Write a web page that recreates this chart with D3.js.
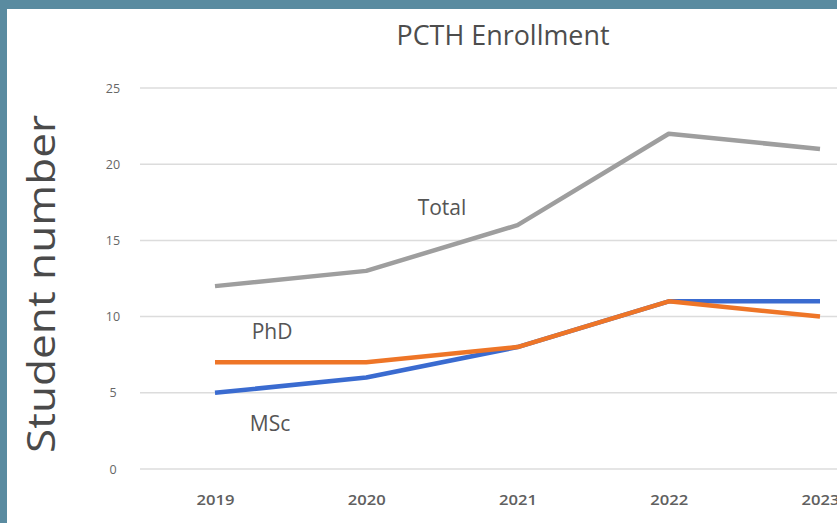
<!DOCTYPE html>
<html><head><meta charset="utf-8">
<script src="https://cdn.jsdelivr.net/npm/d3@7"></script>
<style>
html,body{margin:0;padding:0;background:#fff;}
svg{display:block;}
</style></head>
<body>
<svg id="chart" width="837" height="523"></svg>
<script>
const years = ["2019","2020","2021","2022","2023"];
const totalValues = [12, 13, 16, 22, 21];
const phdValues = [7, 7, 8, 11, 10];
const mscValues = [5, 6, 8, 11, 11];
const yTicks = [0, 5, 10, 15, 20, 25];
const seriesNames = ["Total", "PhD", "MSc"];
const seriesColors = ["#9e9e9e", "#ee7527", "#3a6bd0"];

const svg = d3.select("#chart");
const W = 837, H = 523;

// teal frame
svg.append("rect").attr("x",0).attr("y",0).attr("width",W).attr("height",H).attr("fill","#5a8ba0");
svg.append("rect").attr("x",7).attr("y",9).attr("width",W-7).attr("height",H-9).attr("fill","#ffffff");

const x = d3.scalePoint().domain(years).range([215, 820]);
const y = d3.scaleLinear().domain([0,25]).range([469, 88]);

// gridlines
const grid = svg.append("g");
grid.selectAll("line").data(yTicks).join("line")
  .attr("x1",140).attr("x2",W)
  .attr("y1",d=>y(d)).attr("y2",d=>y(d))
  .attr("stroke","#dcdcdc").attr("stroke-width",1.5);

// y axis labels
const yAxis = d3.axisLeft(y).tickValues(yTicks).tickSize(0).tickPadding(0);
const gy = svg.append("g").attr("transform","translate(120,0)").call(yAxis);
gy.select(".domain").remove();
gy.selectAll("text").attr("font-family","Open Sans, sans-serif").attr("font-size",12.5)
  .attr("fill","#666").attr("text-anchor","middle").attr("x",-7);

// x axis labels
const xAxis = d3.axisBottom(x).tickSize(0).tickPadding(0);
const gx = svg.append("g").attr("transform","translate(0,494)").call(xAxis);
gx.select(".domain").remove();
gx.selectAll("text").attr("font-family","Open Sans, sans-serif").attr("font-size",15)
  .attr("font-weight","600").attr("fill","#606060").attr("dy","0.71em")
  .attr("textLength",38).attr("lengthAdjust","spacingAndGlyphs");

// lines
const series = [totalValues, phdValues, mscValues];
const line = d3.line().x((d,i)=>x(years[i])).y(d=>y(d));
[2,1,0].forEach(k=>{
  svg.append("path").datum(series[k]).attr("d",line)
    .attr("fill","none").attr("stroke",seriesColors[k]).attr("stroke-width",4.5)
    .attr("stroke-linejoin","round");
});

// series labels
const labelPos = [[442,215],[272,339],[270,431]];
seriesNames.forEach((n,i)=>{
  svg.append("text").attr("x",labelPos[i][0]).attr("y",labelPos[i][1])
    .attr("text-anchor","middle").attr("font-family","Open Sans, sans-serif")
    .attr("font-size",21).attr("fill","#555").text(n);
});

// title
svg.append("text").attr("x",503).attr("y",45).attr("text-anchor","middle")
  .attr("font-family","Open Sans, sans-serif").attr("font-size",28).attr("fill","#4d4d4d")
  .attr("textLength",213).attr("lengthAdjust","spacingAndGlyphs")
  .text("PCTH Enrollment");

// y title
svg.append("text").attr("transform","translate(55,284) rotate(-90)").attr("text-anchor","middle")
  .attr("font-family","Open Sans, sans-serif").attr("font-size",38).attr("fill","#4a4a4a")
  .attr("textLength",338).attr("lengthAdjust","spacingAndGlyphs")
  .text("Student number");
</script>
</body></html>
